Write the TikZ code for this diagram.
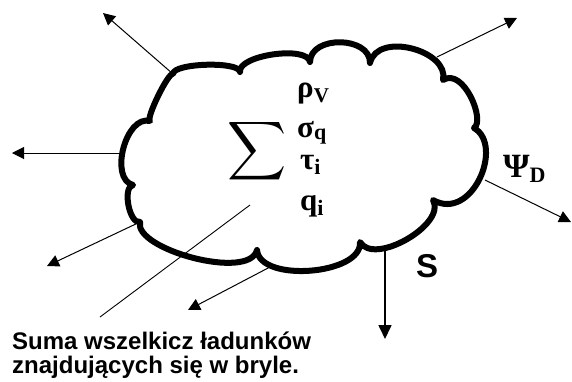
\documentclass[tikz,border=0pt]{standalone}
\usepackage{graphicx}
\usepackage{fontspec}
\setmainfont{Liberation Sans}
\newfontfamily\grk{Liberation Serif}
\usetikzlibrary{arrows.meta,calc}
\begin{document}
\begin{tikzpicture}[x=1pt,y=-1pt,
  cloudline/.style={line width=6pt,line join=round,line cap=round},
  ray/.style={line width=1pt,-{Triangle[length=12pt,width=12pt]}},
  sray/.style={line width=1.6pt,-{Triangle[length=14pt,width=13pt]}},
  lbl/.style={inner sep=0pt,anchor=base west}]
\useasboundingbox (0,0) rectangle (572,381);
% cloud notch points
\coordinate (n1) at (173,74);
\coordinate (n2) at (240,72);
\coordinate (n3) at (310,62);
\coordinate (n4) at (370,63);
\coordinate (n5) at (443,80);
\coordinate (n6) at (474,128);
\coordinate (n7) at (433,200);
\coordinate (n8) at (360,242);
\coordinate (n9) at (257,250);
\coordinate (n10) at (140,222);
\coordinate (n11) at (133,185);
\coordinate (n12) at (150,121);
% arrow bases and tips
\coordinate (bUR) at (437,57);
\coordinate (bL) at (120,153);
\coordinate (bPsi) at (485,180);
\coordinate (bS) at (385,250);
\coordinate (bLL2) at (270,267);
\coordinate (tUL) at (103,13);
\coordinate (tUR) at (517,18);
\coordinate (tL) at (12,153);
\coordinate (tPsi) at (571,222);
\coordinate (tS) at (385,339);
\coordinate (tLL1) at (47,266);
\coordinate (tLL2) at (188,310);
\coordinate (dA) at (250,205);
\coordinate (dB) at (100,317);
% arrows
\draw[ray] (n1) -- (tUL);
\draw[ray] (bUR) -- (tUR);
\draw[ray] (bL) -- (tL);
\draw[ray] (bPsi) -- (tPsi);
\draw[sray] (bS) -- (tS);
\draw[ray] (n10) -- (tLL1);
\draw[ray] (bLL2) -- (tLL2);
\draw[line width=0.9pt] (dA) -- (dB);
% cloud
\draw[cloudline] (n1)
  .. controls ($(n1)!11pt!90:(n2)$) and ($(n2)!11pt!-90:(n1)$) .. (n2)
  .. controls ($(n2)!17pt!90:(n3)$) and ($(n3)!17pt!-90:(n2)$) .. (n3)
  .. controls ($(n3)!27pt!90:(n4)$) and ($(n4)!27pt!-90:(n3)$) .. (n4)
  .. controls ($(n4)!33pt!90:(n5)$) and ($(n5)!30pt!-90:(n4)$) .. (n5)
  .. controls ($(n5)!24pt!90:(n6)$) and ($(n6)!14pt!-90:(n5)$) .. (n6)
  .. controls ($(n6)!35pt!90:(n7)$) and ($(n7)!45pt!-90:(n6)$) .. (n7)
  .. controls ($(n7)!28pt!90:(n8)$) and ($(n8)!28pt!-90:(n7)$) .. (n8)
  .. controls ($(n8)!33pt!90:(n9)$) and ($(n9)!33pt!-90:(n8)$) .. (n9)
  .. controls ($(n9)!32pt!90:(n10)$) and ($(n10)!28pt!-90:(n9)$) .. (n10)
  .. controls ($(n10)!11pt!90:(n11)$) and ($(n11)!11pt!-90:(n10)$) .. (n11)
  .. controls ($(n11)!25pt!90:(n12)$) and ($(n12)!25pt!-90:(n11)$) .. (n12)
  .. controls ($(n12)!5pt!90:(n1)$) and ($(n1)!5pt!-90:(n12)$) .. (n1) -- cycle;
% labels
\node[inner sep=0pt] (sum) at (257,151) {\scalebox{4.1}{$\displaystyle\sum$}};
\node[lbl] (rho) at (297,97) {\grk\bfseries\fontsize{31}{31}\selectfont ρ\raisebox{-5pt}{\fontsize{21}{21}\selectfont V}};
\node[lbl] (sig) at (297,137) {\grk\bfseries\fontsize{31}{31}\selectfont σ\raisebox{-2pt}{\fontsize{22}{22}\selectfont q}};
\node[lbl] (tau) at (300,169) {\grk\bfseries\fontsize{31}{31}\selectfont τ\raisebox{-5pt}{\fontsize{22}{22}\selectfont i}};
\node[lbl] (qi) at (300,210) {\grk\bfseries\fontsize{31}{31}\selectfont q\raisebox{-5pt}{\fontsize{22}{22}\selectfont i}};
\node[lbl] (psi) at (503,177) {\grk\bfseries\fontsize{34}{34}\selectfont Ψ\raisebox{-5pt}{\fontsize{22}{22}\selectfont D}};
\node[lbl] (S) at (416,277) {\bfseries\fontsize{33}{33}\selectfont S};
\node[lbl,align=left,font=\bfseries\fontsize{24}{24}\selectfont] (txt) at (12,373) {Suma wszelkicz ładunków\\znajdujących się w bryle.};
\end{tikzpicture}
\end{document}
